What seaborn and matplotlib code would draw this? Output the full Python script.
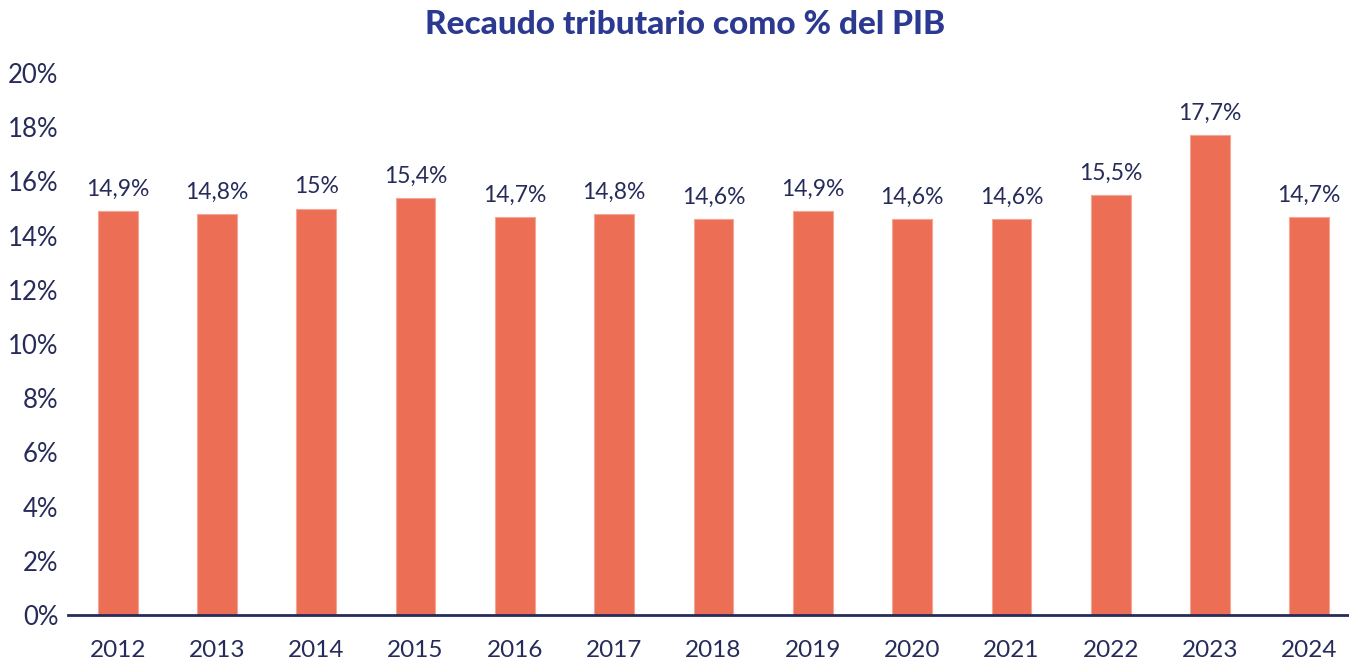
import matplotlib
matplotlib.use("Agg")
import matplotlib.pyplot as plt
import seaborn as sns
import pandas as pd

years = ["2012", "2013", "2014", "2015", "2016", "2017", "2018", "2019", "2020", "2021", "2022", "2023", "2024"]
values = [14.9, 14.8, 15.0, 15.4, 14.7, 14.8, 14.6, 14.9, 14.6, 14.6, 15.5, 17.7, 14.7]
labels = ["14,9%", "14,8%", "15%", "15,4%", "14,7%", "14,8%", "14,6%", "14,9%", "14,6%", "14,6%", "15,5%", "17,7%", "14,7%"]
yticks = [0, 2, 4, 6, 8, 10, 12, 14, 16, 18, 20]
title = "Recaudo tributario como % del PIB"

sns.set_theme(style="white")
plt.rcParams["font.family"] = ["Lato", "DejaVu Sans"]

navy = "#262B5A"
bar_color = "#EC6E55"

df = pd.DataFrame({"year": years, "value": values})

fig = plt.figure(figsize=(13.49, 6.59), dpi=100)
ax = fig.add_axes([0.0504, 0.0668, 0.9496, 0.8224])
sns.barplot(data=df, x="year", y="value", color=bar_color, saturation=1,
            width=0.4, ax=ax, edgecolor="#F4A593", linewidth=0.8)

for i, (v, lab) in enumerate(zip(values, labels)):
    ax.annotate(lab, (i, v), xytext=(0, 8), textcoords="offset points",
                ha="center", va="bottom", fontsize=16.5, color=navy)

ax.set_ylim(0, 20)
ax.set_xlim(-0.5, 12.4)
ax.set_yticks(yticks)
ax.set_yticklabels([f"{t}%" for t in yticks])
ax.tick_params(axis="y", labelsize=18.5, colors=navy, length=0, pad=7)
ax.tick_params(axis="x", labelsize=17.5, colors=navy, length=0, pad=18)
ax.set_xlabel("")
ax.set_ylabel("")
for s in ["left", "right", "top"]:
    ax.spines[s].set_visible(False)
ax.spines["bottom"].set_color(navy)
ax.spines["bottom"].set_linewidth(2)
ax.grid(False)

fig.text(0.508, 0.985, title, ha="center", va="top", fontsize=24,
         fontweight=900, color="#2B3990")

fig.savefig("out.png", dpi=100)
